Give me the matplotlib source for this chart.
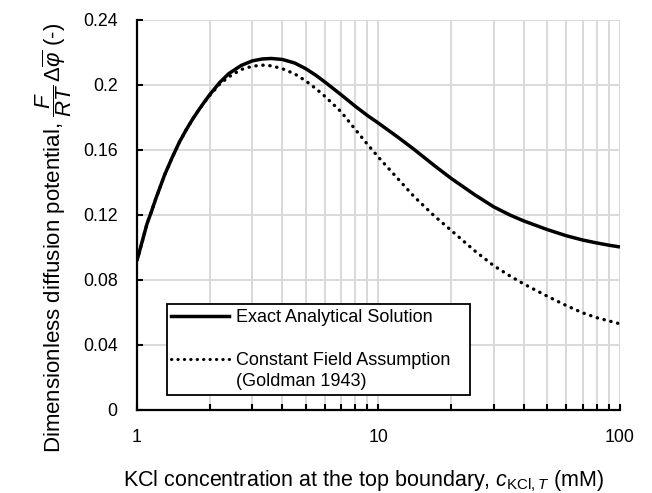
import matplotlib
matplotlib.use("Agg")
import matplotlib.pyplot as plt
from matplotlib.lines import Line2D
from matplotlib.ticker import FixedLocator, NullFormatter

plt.rcParams['font.family'] = ['Liberation Sans', 'DejaVu Sans']
plt.rcParams['mathtext.fontset'] = 'custom'
plt.rcParams['mathtext.rm'] = 'Liberation Sans'
plt.rcParams['mathtext.it'] = 'Liberation Sans:italic'
plt.rcParams['mathtext.bf'] = 'Liberation Sans:bold'

# ---- data ----
conc = [1, 1.05, 1.1, 1.15, 1.2, 1.3, 1.4, 1.5, 1.6, 1.7, 1.8, 1.9, 2,
        2.2, 2.4, 2.7, 3, 3.3, 3.6, 4, 4.5, 5, 5.5, 6, 7, 8, 9, 10,
        12, 14, 17, 20, 25, 30, 35, 40, 50, 60, 70, 80, 90, 100]
exact = [0.0920, 0.1035, 0.1145, 0.1225, 0.1305, 0.1445, 0.1555, 0.1650, 0.1725,
         0.1790, 0.1845, 0.1895, 0.1940,
         0.2015, 0.2070, 0.2120, 0.2148, 0.2160, 0.2163, 0.2157, 0.2135, 0.2100,
         0.2060, 0.2018, 0.1940, 0.1870, 0.1812, 0.1765,
         0.1680, 0.1605, 0.1505, 0.1425, 0.1325, 0.1250, 0.1200, 0.1163, 0.1110,
         0.1072, 0.1046, 0.1028, 0.1014, 0.1003]
goldman = [0.0920, 0.1035, 0.1145, 0.1225, 0.1305, 0.1445, 0.1555, 0.1650, 0.1725,
           0.1790, 0.1845, 0.1893, 0.1935,
           0.2005, 0.2050, 0.2095, 0.2115, 0.2122, 0.2118, 0.2100, 0.2068, 0.2025,
           0.1978, 0.1930, 0.1835, 0.1728, 0.1635, 0.1555,
           0.1425, 0.1315, 0.1195, 0.1105, 0.0980, 0.0888, 0.0825, 0.0775, 0.0700,
           0.0642, 0.0598, 0.0568, 0.0548, 0.0530]

y_ticks = [0, 0.04, 0.08, 0.12, 0.16, 0.2, 0.24]
y_tick_labels = ['0', '0.04', '0.08', '0.12', '0.16', '0.2', '0.24']
x_major = [1, 10, 100]
x_major_labels = ['1', '10', '100']
x_minor = [2, 3, 4, 5, 6, 7, 8, 9, 20, 30, 40, 50, 60, 70, 80, 90]

label_exact = 'Exact Analytical Solution'
label_goldman = 'Constant Field Assumption'
label_goldman2 = '(Goldman 1943)'

DOT = (0, (0.1, 2.0))
GRID = '#d9d9d9'

fig = plt.figure(figsize=(6.52, 4.93), dpi=100)
ax = fig.add_axes([0.2101, 0.1684, 0.7408, 0.7911])

ax.plot(conc, exact, color='black', lw=2.5, solid_capstyle='butt',
        solid_joinstyle='round', zorder=3)
ax.plot(conc, goldman, color='black', lw=2.4, linestyle=DOT,
        dash_capstyle='round', zorder=3)

ax.set_xscale('log')
ax.set_xlim(1, 100)
ax.set_ylim(0, 0.24)

ax.xaxis.set_major_locator(FixedLocator(x_major))
ax.set_xticklabels(x_major_labels)
ax.xaxis.set_minor_locator(FixedLocator(x_minor))
ax.xaxis.set_minor_formatter(NullFormatter())
ax.set_yticks(y_ticks)
ax.set_yticklabels(y_tick_labels)

ax.grid(True, which='both', axis='x', color=GRID, lw=1.4, zorder=0)
ax.grid(True, which='major', axis='y', color=GRID, lw=1.4, zorder=0)
ax.set_axisbelow(True)

for s in ['top', 'right']:
    ax.spines[s].set_visible(False)
for s in ['left', 'bottom']:
    ax.spines[s].set_linewidth(1.6)
    ax.spines[s].set_color('black')
    ax.spines[s].set_zorder(4)

ax.axhline(0.24, color=GRID, lw=1.4, zorder=0)
ax.axvline(100, color=GRID, lw=1.4, zorder=0)

ax.tick_params(axis='both', which='both', direction='in', length=4, width=1.5,
               color='black', labelsize=12.8, labelcolor='black')
ax.tick_params(axis='x', which='major', pad=14)
ax.tick_params(axis='y', which='major', pad=14)

ax.set_xlabel(r'KCl concentration at the top boundary, $c_{\mathrm{KCl},T}$ (mM)',
              fontsize=15.5)
ax.xaxis.set_label_coords(0.47, -0.149)
ax.set_ylabel(r'Dimensionless diffusion potential, $\dfrac{F}{RT}\,\Delta\overline{\varphi}$ (-)',
              fontsize=16)
ax.yaxis.set_label_coords(-0.130, 0.441)

handles = [Line2D([], [], color='black', lw=2.5),
           Line2D([], [], linestyle='none'),
           Line2D([], [], color='black', lw=2.2, linestyle=DOT, dash_capstyle='round'),
           Line2D([], [], linestyle='none')]
labels = [label_exact, ' ', label_goldman, label_goldman2]
leg = ax.legend(handles, labels, loc='lower left',
                bbox_to_anchor=(0.0615, 0.0385, 0.6275, 0.265), mode='expand',
                borderaxespad=0, fancybox=False, framealpha=1, edgecolor='black',
                fontsize=13, handlelength=3.2, handletextpad=0.4,
                labelspacing=0.25, borderpad=0.25)
leg.get_frame().set_linewidth(1.3)
leg.set_zorder(5)

fig.savefig('out.png', dpi=100)
